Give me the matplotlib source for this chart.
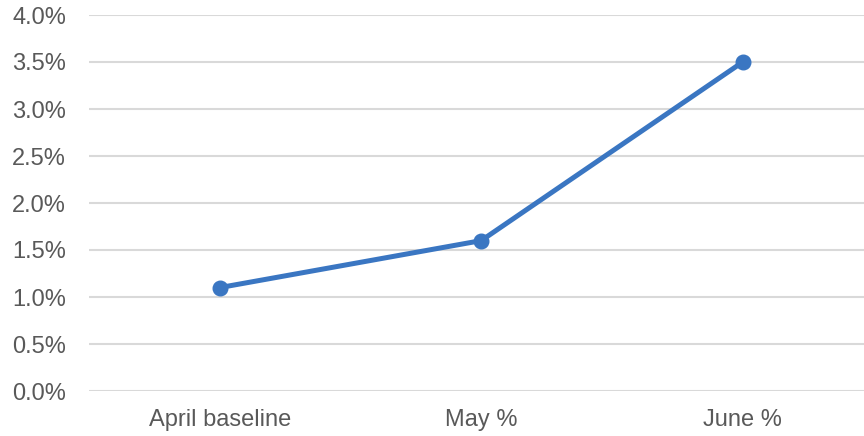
import matplotlib
matplotlib.use("Agg")
import matplotlib.pyplot as plt
from matplotlib.ticker import FuncFormatter, MultipleLocator

categories = ["April baseline", "May %", "June %"]
values = [1.1, 1.6, 3.5]

plt.rcParams['font.family'] = ['Liberation Sans', 'DejaVu Sans']

fig = plt.figure(figsize=(8.64, 4.36), dpi=100)
ax = fig.add_axes([89 / 864, 1 - 391 / 436, 784.5 / 864, 376 / 436])

x = range(len(categories))
ax.plot(x, values, color="#3A76C2", linewidth=3.6, marker="o", markersize=10.5,
        solid_capstyle="round", zorder=3)

ax.set_xlim(-0.5, len(categories) - 0.5)
ax.set_ylim(0, 4.0)
ax.yaxis.set_major_locator(MultipleLocator(0.5))
ax.yaxis.set_major_formatter(FuncFormatter(lambda v, _: f"{v:.1f}%"))
ax.set_xticks(list(x))
ax.set_xticklabels(categories)

ax.grid(axis="y", color="#D9D9D9", linewidth=1.5)
ax.set_axisbelow(True)
for s in ax.spines.values():
    s.set_visible(False)
ax.tick_params(axis="both", length=0, labelsize=17, labelcolor="#595959")
ax.tick_params(axis="y", pad=16.5)
ax.tick_params(axis="x", pad=13)

fig.savefig("out.png", dpi=100)
